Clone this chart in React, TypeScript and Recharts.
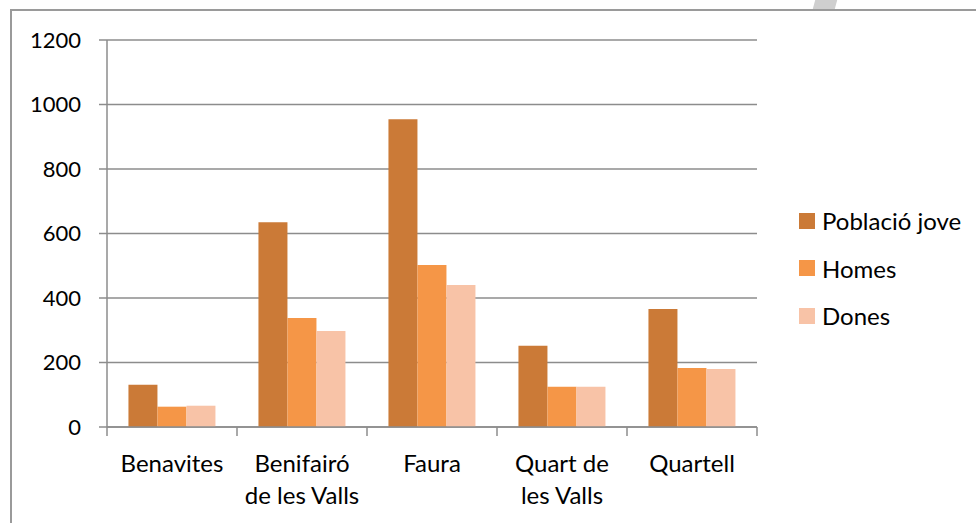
import React from 'react';
import { BarChart, Bar, XAxis, YAxis, CartesianGrid, Legend } from 'recharts';

const municipis = ['Benavites', 'Benifairó de les Valls', 'Faura', 'Quart de les Valls', 'Quartell'];
const tickLines = [['Benavites'], ['Benifairó', 'de les Valls'], ['Faura'], ['Quart de', 'les Valls'], ['Quartell']];
const poblacioJove = [131, 635, 954, 252, 366];
const homes = [63, 338, 502, 125, 183];
const dones = [66, 298, 440, 125, 180];
const yTicks = [0, 200, 400, 600, 800, 1000, 1200];

const series = [
  { key: 'jove', name: 'Població jove', color: '#CB7A37' },
  { key: 'homes', name: 'Homes', color: '#F59647' },
  { key: 'dones', name: 'Dones', color: '#F8C3A7' },
];

const data = municipis.map((m, i) => ({
  municipi: m,
  jove: poblacioJove[i],
  homes: homes[i],
  dones: dones[i],
}));

const FONT = 'Lato, "Open Sans", sans-serif';
const AXIS_GREY = '#8c8c8c';

function CategoryTick(props: any) {
  const { x, y, payload, index } = props;
  const half = payload && payload.offset ? payload.offset : 65;
  const lines = tickLines[index] || [String(payload.value)];
  const isLast = index === municipis.length - 1;
  return (
    <g>
      <line x1={x - half} y1={y} x2={x - half} y2={y + 9} stroke={AXIS_GREY} strokeWidth={1.5} />
      {isLast && <line x1={x + half} y1={y} x2={x + half} y2={y + 9} stroke={AXIS_GREY} strokeWidth={1.5} />}
      {lines.map((l: string, i: number) => (
        <text key={i} x={x} y={y + 45 + i * 32} textAnchor="middle" fontSize={24} fontFamily={FONT} fill="#000">
          {l}
        </text>
      ))}
    </g>
  );
}

function LegendBox() {
  return (
    <div style={{ fontFamily: FONT }}>
      {series.map((s) => (
        <div key={s.key} style={{ display: 'flex', alignItems: 'center', height: 47.5 }}>
          <div style={{ width: 16, height: 16, background: s.color, marginRight: 7 }} />
          <span style={{ fontSize: 24, color: '#000', whiteSpace: 'nowrap' }}>{s.name}</span>
        </div>
      ))}
    </div>
  );
}

export default function App() {
  return (
    <div style={{ position: 'absolute', left: 0, top: 0, width: 976, height: 523, background: '#fff', overflow: 'hidden' }}>
      {/* marc del gràfic */}
      <div
        style={{
          position: 'absolute',
          left: 10,
          top: 9,
          width: 1000,
          height: 600,
          borderLeft: '2px solid #9a9a9a',
          borderTop: '2px solid #9a9a9a',
        }}
      />
      <div
        style={{
          position: 'absolute',
          left: 814,
          top: 0,
          width: 22,
          height: 9,
          background: '#cfcfcf',
          transform: 'skewX(-15deg)',
        }}
      />
      <div style={{ position: 'absolute', left: 0, top: 0 }}>
        <BarChart
          width={976}
          height={523}
          data={data}
          margin={{ top: 40, right: 42, bottom: 0, left: 0 }}
          barCategoryGap="16.5%"
          barGap={0}
        >
          <CartesianGrid horizontal vertical={false} stroke={AXIS_GREY} strokeWidth={1.5} />
          <XAxis
            dataKey="municipi"
            height={96}
            tickLine={false}
            tickSize={0}
            tickMargin={0}
            axisLine={{ stroke: AXIS_GREY, strokeWidth: 1.5 }}
            tick={<CategoryTick />}
            interval={0}
          />
          <YAxis
            width={107}
            domain={[0, 1200]}
            ticks={yTicks}
            tickSize={8}
            tickMargin={18}
            tickLine={{ stroke: AXIS_GREY, strokeWidth: 1.5 }}
            axisLine={{ stroke: AXIS_GREY, strokeWidth: 1.5 }}
            tick={{ fontSize: 22, fontFamily: FONT, fill: '#000' }}
          />
          <Legend
            layout="vertical"
            align="right"
            verticalAlign="middle"
            content={<LegendBox />}
            wrapperStyle={{ left: 799, top: 197, width: 177, height: 143 }}
          />
          {series.map((s) => (
            <Bar key={s.key} dataKey={s.key} name={s.name} fill={s.color} isAnimationActive={false} />
          ))}
        </BarChart>
      </div>
    </div>
  );
}
